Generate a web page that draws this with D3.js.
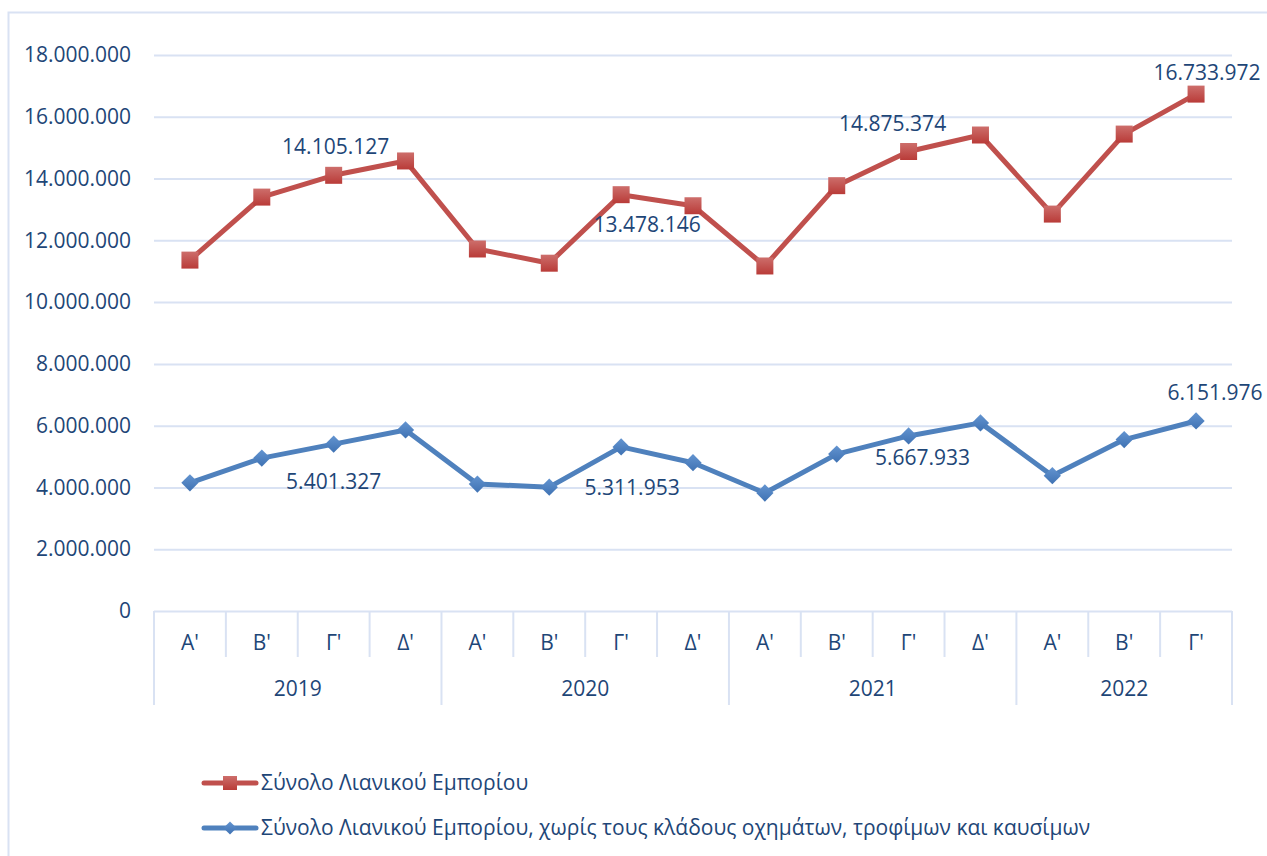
<!DOCTYPE html>
<html>
<head>
<meta charset="utf-8">
<script src="https://cdn.jsdelivr.net/npm/d3@7"></script>
<style>
  body { margin: 0; background: #fff; }
  svg text { font-family: "Open Sans", "Noto Sans", sans-serif; fill: #1E4677; }
</style>
</head>
<body>
<div id="chart"></div>
<script>
// quarters and years of the category axis
var quarters = ["Α'", "Β'", "Γ'", "Δ'", "Α'", "Β'", "Γ'", "Δ'", "Α'", "Β'", "Γ'", "Δ'", "Α'", "Β'", "Γ'"]
var years = ["2019", "2020", "2021", "2022"]
var quartersPerYear = [4, 4, 4, 3]

// Σύνολο Λιανικού Εμπορίου
var totalRetail = [11360000, 13400000, 14105127, 14570000, 11720000, 11260000, 13478146, 13120000,
                   11170000, 13770000, 14875374, 15410000, 12850000, 15440000, 16733972]
// χωρίς τους κλάδους οχημάτων, τροφίμων και καυσίμων
var retailExcl = [4150000, 4950000, 5401327, 5860000, 4110000, 4010000, 5311953, 4800000,
                  3820000, 5080000, 5667933, 6090000, 4380000, 5550000, 6151976]

var yTicks = [0, 2000000, 4000000, 6000000, 8000000, 10000000, 12000000, 14000000, 16000000, 18000000]
var legendNames = ["Σύνολο Λιανικού Εμπορίου",
                   "Σύνολο Λιανικού Εμπορίου, χωρίς τους κλάδους οχημάτων, τροφίμων και καυσίμων"]

// which points carry a value label, and where the label sits relative to the point
var redLabels = [{i: 2, dx: 2, dy: -29}, {i: 6, dx: 26, dy: 30}, {i: 10, dx: -16, dy: -28}, {i: 14, dx: 11, dy: -21}]
var blueLabels = [{i: 2, dx: 0, dy: 37}, {i: 6, dx: 11, dy: 41}, {i: 10, dx: 14, dy: 22}, {i: 14, dx: 19, dy: -28}]

var red = "#C0504D", blue = "#4F81BD", gridColor = "#D9E2F3"
var fontSize = 21
var W = 1267, H = 856
var plot = {left: 154, right: 1232, top: 55, bottom: 611}

var locale = d3.formatLocale({decimal: ",", thousands: ".", grouping: [3], currency: ["", "€"]})
var fmt = locale.format(",d")

var svg = d3.select("#chart").append("svg").attr("width", W).attr("height", H)

var defs = svg.append("defs")
function gradient(id, top, bottom) {
    var g = defs.append("linearGradient").attr("id", id).attr("x1", 0).attr("y1", 0).attr("x2", 0).attr("y2", 1)
    g.append("stop").attr("offset", "0%").attr("stop-color", top)
    g.append("stop").attr("offset", "100%").attr("stop-color", bottom)
}
gradient("redGrad", "#CD6E6B", "#B93B38")
gradient("blueGrad", "#6394D0", "#3F72B3")

// chart border (runs off the right and bottom edges)
svg.append("rect")
    .attr("x", 8.5).attr("y", 12.5).attr("width", 1400).attr("height", 1000)
    .attr("fill", "none").attr("stroke", gridColor).attr("stroke-width", 2)

var x = d3.scaleBand().domain(d3.range(quarters.length)).range([plot.left, plot.right])
var y = d3.scaleLinear().domain([0, 18000000]).range([plot.bottom, plot.top])
var cx = function(i) { return x(i) + x.bandwidth() / 2 }

// gridlines + y labels
var yAxis = svg.append("g")
    .attr("transform", "translate(" + plot.left + ",0)")
    .call(d3.axisLeft(y).tickValues(yTicks).tickFormat(fmt)
        .tickSize(-(plot.right - plot.left)).tickPadding(23))
yAxis.select(".domain").remove()
yAxis.selectAll(".tick line").attr("stroke", gridColor).attr("stroke-width", 2)
yAxis.selectAll(".tick text").attr("font-size", fontSize).attr("fill", "#1E4677")
    .attr("font-family", "Open Sans")

// category axis: quarter cells and year cells
var axisG = svg.append("g")
var bounds = d3.range(quarters.length + 1).map(function(i) {
    return i < quarters.length ? x(i) : plot.right
})
var yearStarts = [0]
quartersPerYear.forEach(function(n, k) { yearStarts.push(yearStarts[k] + n) })

axisG.selectAll("line.q").data(bounds).enter().append("line")
    .attr("x1", function(d) { return d }).attr("x2", function(d) { return d })
    .attr("y1", plot.bottom)
    .attr("y2", function(d, i) { return yearStarts.indexOf(i) >= 0 ? 705 : 657 })
    .attr("stroke", gridColor).attr("stroke-width", 2)

axisG.selectAll("text.q").data(quarters).enter().append("text")
    .attr("x", function(d, i) { return cx(i) }).attr("y", 643)
    .attr("dy", "0.35em").attr("text-anchor", "middle").attr("font-size", fontSize)
    .text(function(d) { return d })

axisG.selectAll("text.y").data(years).enter().append("text")
    .attr("x", function(d, k) { return (bounds[yearStarts[k]] + bounds[yearStarts[k + 1]]) / 2 })
    .attr("y", 689).attr("dy", "0.35em").attr("text-anchor", "middle").attr("font-size", fontSize)
    .text(function(d) { return d })

// lines
var line = d3.line().x(function(d, i) { return cx(i) }).y(function(d) { return y(d) })

function drawSeries(values, color, marker, labels) {
    var g = svg.append("g")
    g.append("path").datum(values).attr("d", line)
        .attr("fill", "none").attr("stroke", color).attr("stroke-width", 5).attr("stroke-linejoin", "round")
    var sym = marker === "square"
        ? d3.symbol().type(d3.symbolSquare).size(17 * 17)
        : d3.symbol().type(d3.symbolDiamond2).size(190)
    g.selectAll("path.m").data(values).enter().append("path")
        .attr("transform", function(d, i) { return "translate(" + cx(i) + "," + y(d) + ")" })
        .attr("d", sym)
        .attr("fill", marker === "square" ? "url(#redGrad)" : "url(#blueGrad)")
    g.selectAll("text.lab").data(labels).enter().append("text")
        .attr("x", function(d) { return cx(d.i) + d.dx })
        .attr("y", function(d) { return y(values[d.i]) + d.dy })
        .attr("dy", "0.35em").attr("text-anchor", "middle").attr("font-size", fontSize)
        .text(function(d) { return fmt(values[d.i]) })
}
drawSeries(totalRetail, red, "square", redLabels)
drawSeries(retailExcl, blue, "diamond", blueLabels)

// legend
var legend = svg.append("g")
var legendItems = [
    {name: legendNames[0], color: red, marker: "square", y: 783},
    {name: legendNames[1], color: blue, marker: "diamond", y: 828}
]
legendItems.forEach(function(d) {
    legend.append("line").attr("x1", 204).attr("x2", 256).attr("y1", d.y).attr("y2", d.y)
        .attr("stroke", d.color).attr("stroke-width", 5).attr("stroke-linecap", "round")
    legend.append("path")
        .attr("transform", "translate(230," + d.y + ")")
        .attr("d", d.marker === "square"
            ? d3.symbol().type(d3.symbolSquare).size(14 * 14)
            : d3.symbol().type(d3.symbolDiamond2).size(110))
        .attr("fill", d.marker === "square" ? "url(#redGrad)" : "url(#blueGrad)")
    legend.append("text").attr("x", 261).attr("y", d.y).attr("dy", "0.35em")
        .attr("font-size", fontSize).text(d.name)
})
</script>
</body>
</html>
